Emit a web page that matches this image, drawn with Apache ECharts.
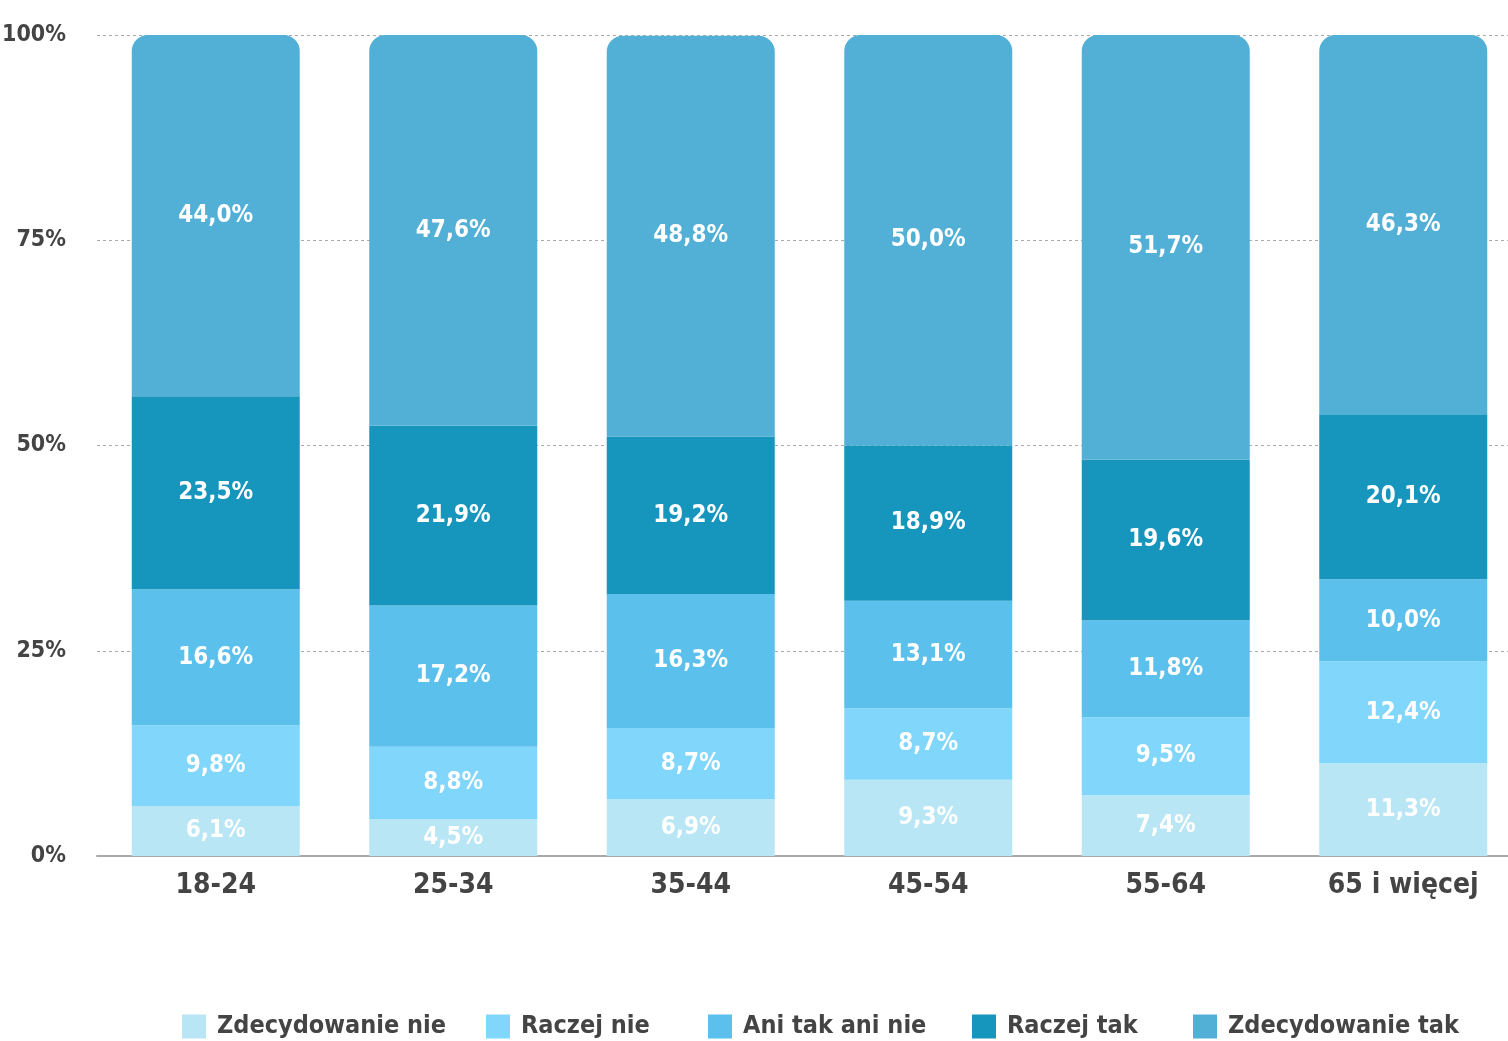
<!DOCTYPE html>
<html>
<head>
<meta charset="utf-8">
<script src="https://cdn.jsdelivr.net/npm/echarts@6/dist/echarts.min.js"></script>
<style>
  html, body { margin: 0; padding: 0; background: #fff; }
  #chart { width: 1508px; height: 1041px; }
</style>
</head>
<body>
<div id="chart"></div>
<script>
const categories = ['18-24', '25-34', '35-44', '45-54', '55-64', '65 i więcej'];
const seriesNames = ['Zdecydowanie nie', 'Raczej nie', 'Ani tak ani nie', 'Raczej tak', 'Zdecydowanie tak'];
const zdecydowanieNie = [6.1, 4.5, 6.9, 9.3, 7.4, 11.3];
const raczejNie = [9.8, 8.8, 8.7, 8.7, 9.5, 12.4];
const aniTakAniNie = [16.6, 17.2, 16.3, 13.1, 11.8, 10.0];
const raczejTak = [23.5, 21.9, 19.2, 18.9, 19.6, 20.1];
const zdecydowanieTak = [44.0, 47.6, 48.8, 50.0, 51.7, 46.3];
const colors = ['#b9e6f5', '#80d6fb', '#5bc1ec', '#1695bd', '#52afd6'];

const FONT = '"DejaVu Sans Condensed", "Liberation Sans Narrow", sans-serif';
const values = [zdecydowanieNie, raczejNie, aniTakAniNie, raczejTak, zdecydowanieTak];
const legendLeft = [177, 481, 703, 967, 1188];

const myChart = echarts.init(document.getElementById('chart'));
const option = {
  animation: false,
  color: colors,
  grid: {
    left: 97,
    right: -14,
    top: 35,
    bottom: 185,
    containLabel: false,
    outerBoundsMode: 'none',
  },
  // 每个图例单独定位
  legend: seriesNames.map((name, i) => ({
    data: [name],
    left: legendLeft[i],
    bottom: -3,
    itemWidth: 24,
    itemHeight: 24,
    itemGap: 0,
    icon: 'rect',
    selectedMode: false,
    textStyle: {
      fontFamily: FONT,
      fontWeight: 'bold',
      fontSize: 25,
      color: '#444',
      padding: [0, 0, 0, 6],
    },
  })),
  xAxis: {
    type: 'category',
    data: categories,
    axisLine: { lineStyle: { color: '#aaa', width: 2 } },
    axisTick: { show: false },
    axisLabel: {
      interval: 0,
      fontFamily: FONT,
      fontWeight: 'bold',
      fontSize: 28,
      color: '#444',
      margin: 16,
    },
  },
  yAxis: {
    type: 'value',
    min: 0,
    max: 100,
    interval: 25,
    axisLine: { show: false },
    axisTick: { show: false },
    splitLine: { lineStyle: { color: '#aaa', type: [3, 3], width: 1 } },
    axisLabel: {
      fontFamily: FONT,
      fontWeight: 'bold',
      fontSize: 23,
      color: '#444',
      margin: 31,
      formatter: '{value}%',
    },
  },
  series: seriesNames.map((name, i) => ({
    name,
    type: 'bar',
    stack: 'total',
    barWidth: 168,
    data: values[i],
    itemStyle: {
      color: colors[i],
      borderRadius: i === seriesNames.length - 1 ? [16, 16, 0, 0] : 0,
    },
    label: {
      show: true,
      position: 'inside',
      color: '#fff',
      fontFamily: FONT,
      fontWeight: 'bold',
      fontSize: 24,
      formatter: p => p.value.toFixed(1).replace('.', ',') + '%',
    },
  })),
};
myChart.setOption(option);
</script>
</body>
</html>
